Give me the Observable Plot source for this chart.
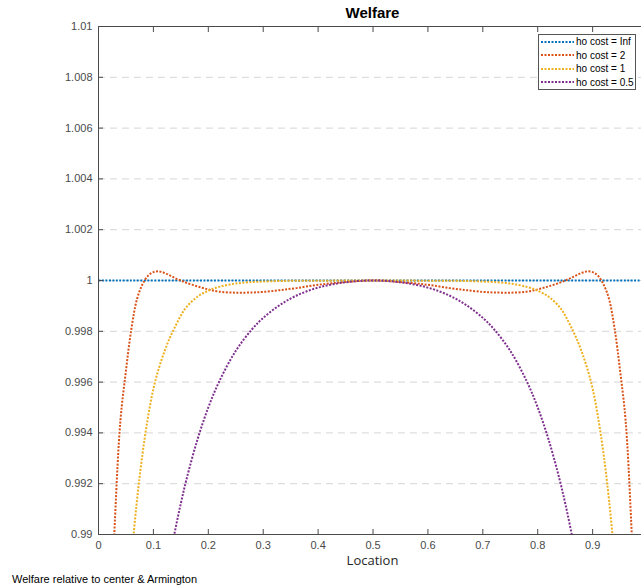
<!DOCTYPE html>
<html>
<head>
<meta charset="utf-8">
<script src="https://cdn.jsdelivr.net/npm/d3@7"></script>
<script src="https://cdn.jsdelivr.net/npm/@observablehq/plot@0.6"></script>
<style>
  body { margin: 0; background: #fff; }
  #wrap { position: relative; width: 641px; height: 587px; overflow: hidden; font-family: "Liberation Sans", Arial, sans-serif; }
  #wrap svg { display: block; }
  .title { position: absolute; left: 98px; width: 549px; top: 4px; text-align: center; font-weight: bold; font-size: 15px; line-height: 18px; color: #000; }
  .xlabel { position: absolute; left: 98px; width: 549px; top: 552px; text-align: center; font-family: "Open Sans", sans-serif; font-size: 13px; line-height: 16px; color: #262626; }
  .caption { position: absolute; left: 12px; top: 572px; font-size: 11px; line-height: 14px; color: #000; }
  .legend { position: absolute; left: 538px; top: 34px; width: 98px; height: 56px; border: 1px solid #555; background: #fff; box-sizing: border-box; padding-top: 0px; }
  .legend .row { display: flex; align-items: center; height: 13.5px; font-size: 10px; color: #000; white-space: nowrap; }
  .legend .row svg { margin-left: 2px; margin-right: 2px; }
</style>
</head>
<body>
<div id="wrap"></div>
<script>
// ---- data ----
const seriesNames = ["ho cost = Inf", "ho cost = 2", "ho cost = 1", "ho cost = 0.5"];
const seriesColors = ["#0072BD", "#D95319", "#EDB120", "#7E2F8E"];

const locInf = [0, 0.5, 1];
const welfareInf = [1, 1, 1];

const locs = [0.02,0.03,0.04,0.05,0.06,0.07,0.08,0.09,0.10,0.11,0.12,0.13,0.14,0.15,0.16,0.18,0.20,0.22,0.25,0.28,0.30,0.33,0.36,0.40,0.45,
              0.50,
              0.55,0.60,0.64,0.67,0.70,0.72,0.75,0.78,0.80,0.82,0.84,0.85,0.86,0.87,0.88,0.89,0.90,0.91,0.92,0.93,0.94,0.95,0.96,0.97,0.98];

const welfareCost2 = [0.985,0.9906,0.9945,0.99645,0.99811,0.99926,0.99984,1.00018,1.00033,1.00036,1.00030,1.00020,1.00009,1.00000,0.99991,0.99977,0.99965,0.99956,0.99952,0.99953,0.99955,0.99962,0.99970,0.99983,0.99994,
                      1.00000,
                      0.99994,0.99983,0.99970,0.99962,0.99955,0.99953,0.99952,0.99956,0.99965,0.99977,0.99991,1.00000,1.00009,1.00020,1.00030,1.00036,1.00033,1.00018,0.99984,0.99926,0.99811,0.99645,0.9945,0.9906,0.985];

const welfareCost1 = [0.9716,0.9776,0.9823,0.98606,0.98901,0.99133,0.99315,0.9946,0.99574,0.99655,0.9972,0.99775,0.9982,0.99862,0.99895,0.99936,0.9996,0.99975,0.99988,0.99994,0.99996,0.99998,0.99999,0.99999,1.00000,
                      1.00000,
                      1.00000,0.99999,0.99999,0.99998,0.99996,0.99994,0.99988,0.99975,0.9996,0.99936,0.99895,0.99862,0.9982,0.99775,0.9972,0.99655,0.99574,0.9946,0.99315,0.99133,0.98901,0.98606,0.9823,0.9776,0.9716];

const welfareCost05 = [null,null,null,null,null,null,null,null,0.98486,0.98642,0.98781,0.98908,0.99021,0.99123,0.99215,0.99372,0.99500,0.99603,0.99723,0.99809,0.99853,0.99903,0.99940,0.99972,0.99993,
                       1.00000,
                       0.99993,0.99972,0.99940,0.99903,0.99853,0.99809,0.99723,0.99603,0.99500,0.99372,0.99215,0.99123,0.99021,0.98908,0.98781,0.98642,0.98486,null,null,null,null,null,null,null,null];

const xTicks = [0, 0.1, 0.2, 0.3, 0.4, 0.5, 0.6, 0.7, 0.8, 0.9];
const yTicks = [0.99, 0.992, 0.994, 0.996, 0.998, 1, 1.002, 1.004, 1.006, 1.008, 1.01];

// ---- build ----
const fmt = d => String(+d.toFixed(4));
const toRows = (xs, ys) => xs.map((x, i) => ({x, y: ys[i]}));
const seriesData = [
  toRows(locInf, welfareInf),
  toRows(locs, welfareCost2),
  toRows(locs, welfareCost1),
  toRows(locs, welfareCost05)
];

const axisColor = "#4a4a4a";
const chart = Plot.plot({
  width: 641,
  height: 587,
  marginTop: 26,
  marginBottom: 53,
  marginLeft: 98,
  marginRight: 0,
  x: {domain: [0, 0.989]},
  y: {domain: [0.99, 1.01]},
  style: {fontFamily: "'Liberation Sans', Arial, sans-serif", fontSize: "11px", color: axisColor, background: "white"},
  marks: [
    Plot.gridY(yTicks, {stroke: "#d6d6d6", strokeOpacity: 1, strokeDasharray: "7,5"}),
    ...seriesData.map((rows, i) => Plot.line(rows, {
      x: "x", y: "y", stroke: seriesColors[i], strokeWidth: 2,
      strokeDasharray: "2,1.5", strokeLinecap: "butt", strokeLinejoin: "miter",
      curve: "catmull-rom", clip: true
    })),
    Plot.ruleX([0], {stroke: axisColor}),
    Plot.ruleY([0.99, 1.01], {stroke: axisColor}),
    Plot.axisY({ticks: yTicks, tickSize: -5, tickPadding: 11, tickFormat: fmt, label: null, stroke: axisColor}),
    Plot.axisX({ticks: xTicks, tickSize: -5, tickPadding: 12, tickFormat: fmt, label: null, stroke: axisColor}),
    Plot.axisX({anchor: "top", ticks: xTicks, tickSize: -5, tickFormat: () => "", label: null, stroke: axisColor})
  ]
});

const wrap = document.getElementById("wrap");
wrap.appendChild(chart);

const addDiv = (cls, text) => {
  const d = document.createElement("div");
  d.className = cls;
  d.textContent = text;
  wrap.appendChild(d);
  return d;
};
addDiv("title", "Welfare");
addDiv("xlabel", "Location");
addDiv("caption", "Welfare relative to center & Armington");

const legend = document.createElement("div");
legend.className = "legend";
seriesNames.forEach((name, i) => {
  const row = document.createElement("div");
  row.className = "row";
  const ns = "http://www.w3.org/2000/svg";
  const s = document.createElementNS(ns, "svg");
  s.setAttribute("width", 33);
  s.setAttribute("height", 6);
  const l = document.createElementNS(ns, "line");
  l.setAttribute("x1", 0); l.setAttribute("x2", 33);
  l.setAttribute("y1", 3); l.setAttribute("y2", 3);
  l.setAttribute("stroke", seriesColors[i]);
  l.setAttribute("stroke-width", 2);
  l.setAttribute("stroke-dasharray", "2,1.5");
  s.appendChild(l);
  row.appendChild(s);
  const t = document.createElement("span");
  t.textContent = name;
  row.appendChild(t);
  legend.appendChild(row);
});
wrap.appendChild(legend);
</script>
</body>
</html>
